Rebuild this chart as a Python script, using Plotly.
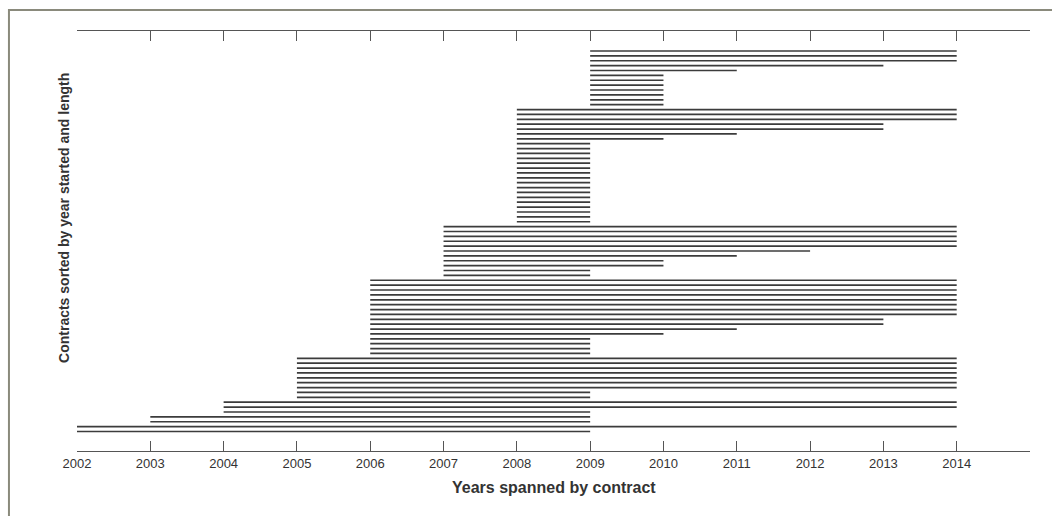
import plotly.graph_objects as go

# Start year of each group of contracts (bottom to top)
start_years = [2002, 2003, 2004, 2005, 2006, 2007, 2008, 2009]

# End years of the contracts in each group, listed bottom to top
ends_2002 = [2009, 2014]
ends_2003 = [2009, 2009]
ends_2004 = [2009, 2014, 2014]
ends_2005 = [2009, 2009, 2014, 2014, 2014, 2014, 2014, 2014, 2014]
ends_2006 = [2009, 2009, 2009, 2009, 2010, 2011, 2013, 2013,
             2014, 2014, 2014, 2014, 2014, 2014, 2014, 2014]
ends_2007 = [2009, 2009, 2010, 2010, 2011, 2012, 2014, 2014, 2014, 2014, 2014]
ends_2008 = [2009, 2009, 2009, 2009, 2009, 2009, 2009, 2009, 2009, 2009,
             2009, 2009, 2009, 2009, 2009, 2009, 2009, 2010, 2011, 2013,
             2013, 2014, 2014, 2014]
ends_2009 = [2010, 2010, 2010, 2010, 2010, 2010, 2010, 2011, 2013, 2014, 2014, 2014]

group_ends = [ends_2002, ends_2003, ends_2004, ends_2005,
              ends_2006, ends_2007, ends_2008, ends_2009]

tick_years = [2002, 2003, 2004, 2005, 2006, 2007, 2008, 2009,
              2010, 2011, 2012, 2013, 2014, 2015]
tick_labels = ["2002", "2003", "2004", "2005", "2006", "2007", "2008", "2009",
               "2010", "2011", "2012", "2013", "2014", ""]

xs, ys = [], []
row = 1
for s, ends in zip(start_years, group_ends):
    for e in ends:
        xs += [s, e, None]
        ys += [row, row, None]
        row += 1

fig = go.Figure()
fig.add_trace(go.Scatter(x=xs, y=ys, mode="lines",
                         line=dict(color="#3c3c3c", width=1.7),
                         hoverinfo="skip", showlegend=False))

fig.update_layout(
    width=1052, height=516,
    margin=dict(l=77, r=22, t=31, b=65),
    paper_bgcolor="white", plot_bgcolor="white",
    font=dict(family="Liberation Sans, Arial, sans-serif", color="#333333"),
    xaxis=dict(range=[2002, 2015], tickmode="array", tickvals=tick_years,
               ticktext=tick_labels, ticks="inside", ticklen=10, tickwidth=1,
               tickcolor="#555555", showline=True, linecolor="#555555",
               linewidth=1, mirror="ticks", showgrid=False, zeroline=False,
               tickfont=dict(size=13, color="#333333")),
    yaxis=dict(range=[-3.0, 83.1], showticklabels=False, ticks="",
               showline=False, showgrid=False, zeroline=False),
    shapes=[dict(type="rect", xref="paper", yref="paper",
                 x0=-0.0714, x1=1.06, y0=-0.2, y1=1.05,
                 line=dict(color="#8a8a7c", width=2))],
    annotations=[
        dict(text="<b>Years spanned by contract</b>", xref="paper", yref="paper",
             x=0.5, y=-0.086, xanchor="center", yanchor="middle",
             showarrow=False, font=dict(size=16, color="#333333")),
        dict(text="<b>Contracts sorted by year started and length</b>",
             xref="paper", yref="paper", x=-0.0136, y=0.555,
             xanchor="center", yanchor="middle", textangle=-90,
             showarrow=False, font=dict(size=14, color="#333333")),
    ],
)

fig.write_html("out.html", config={"displayModeBar": False},
               post_script="document.body.style.margin='0';document.body.style.overflow='hidden';")
